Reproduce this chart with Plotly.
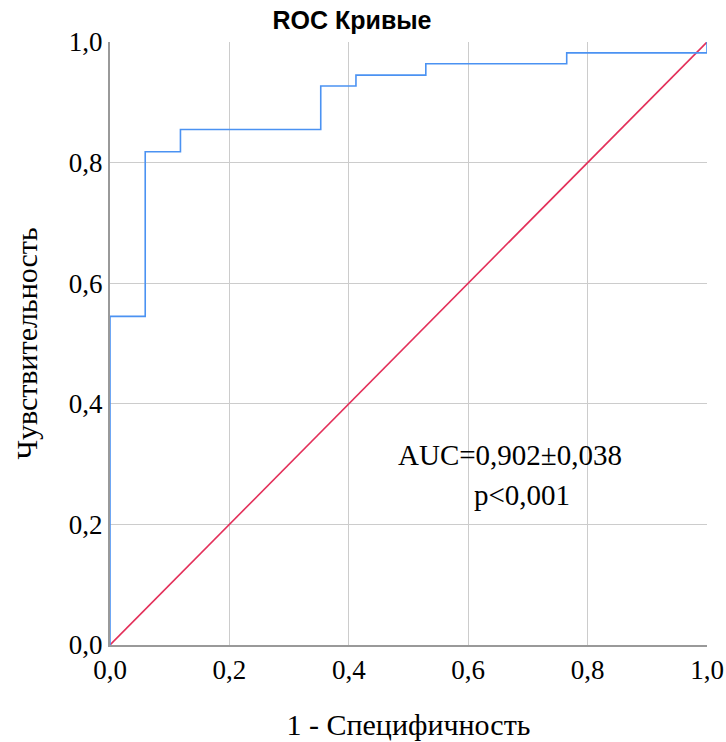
import plotly.graph_objects as go

# ROC curve points (1 - specificity, sensitivity)
fpr = [0.0, 0.0, 0.059, 0.059, 0.118, 0.118, 0.353, 0.353, 0.412, 0.412,
       0.529, 0.529, 0.765, 0.765, 1.0, 1.0]
tpr = [0.0, 0.545, 0.545, 0.818, 0.818, 0.855, 0.855, 0.927, 0.927, 0.945,
       0.945, 0.964, 0.964, 0.982, 0.982, 1.0]

# Reference (chance) line
ref_x = [0.0, 1.0]
ref_y = [0.0, 1.0]

ticks = [0.0, 0.2, 0.4, 0.6, 0.8, 1.0]

auc_text = "AUC=0,902±0,038"
p_text = "p<0,001"

serif = "Liberation Serif, Times New Roman, serif"

fig = go.Figure()
fig.add_trace(go.Scatter(x=ref_x, y=ref_y, mode="lines",
                         line=dict(color="#e3305a", width=1.6),
                         showlegend=False, hoverinfo="skip"))
fig.add_trace(go.Scatter(x=fpr, y=tpr, mode="lines",
                         line=dict(color="#4b92f2", width=1.6),
                         showlegend=False))

axis_common = dict(
    range=[0, 1], tickvals=ticks, tickformat=".1f",
    showgrid=True, gridcolor="#cccccc", gridwidth=1,
    showline=True, linecolor="#999999", linewidth=2,
    zeroline=False, ticks="", fixedrange=True, automargin=False,
    tickfont=dict(family=serif, size=27, color="#000000"),
)

fig.update_layout(
    width=726, height=742,
    margin=dict(l=110, r=19, t=42, b=97),
    paper_bgcolor="white", plot_bgcolor="white",
    separators=",.",
    title=dict(text="<b>ROC Кривые</b>", x=352 / 726, xanchor="center",
               y=1 - 20 / 742, yanchor="middle",
               font=dict(family="Liberation Sans, Arial, sans-serif", size=25, color="#000000")),
    xaxis=dict(**axis_common,
               title=dict(text="1 - Специфичность", standoff=30,
                          font=dict(family=serif, size=30, color="#000000"))),
    yaxis=dict(**axis_common,
               title=dict(text="Чувствительность", standoff=22,
                          font=dict(family=serif, size=30, color="#000000"))),
    annotations=[
        dict(x=0.67, y=0.315, xref="x", yref="y", text=auc_text, showarrow=False,
             font=dict(family=serif, size=29, color="#000000")),
        dict(x=0.69, y=0.249, xref="x", yref="y", text=p_text, showarrow=False,
             font=dict(family=serif, size=29, color="#000000")),
    ],
)

fig.write_html("out.html")
